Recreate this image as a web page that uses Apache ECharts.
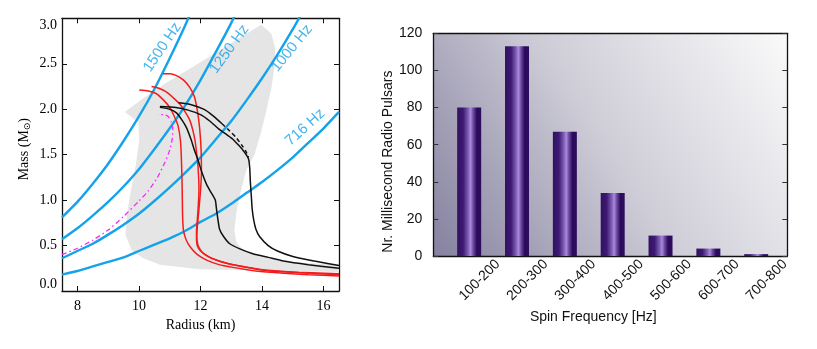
<!DOCTYPE html>
<html><head><meta charset="utf-8">
<script src="https://cdn.jsdelivr.net/npm/echarts@6/dist/echarts.min.js"></script>
<style>html,body{margin:0;padding:0;background:#fff}#c{width:817px;height:349px}</style>
</head><body><div id="c"></div>
<script>
// ---------- Left panel data (Radius km, Mass Msun) ----------
const radiusTicks = [8, 10, 12, 14, 16];
const freq1500 = [[7.5,0.81],[8,0.98],[8.5,1.18],[9,1.4],[9.5,1.65],[10,1.92],[10.5,2.22],[11,2.56],[11.5,2.92],[12,3.32]];
const freq1250 = [[7.5,0.57],[8,0.69],[8.5,0.83],[9,0.98],[9.5,1.15],[10,1.34],[10.5,1.56],[11,1.79],[11.5,2.04],[12,2.32],[12.5,2.63],[13,2.95],[13.5,3.31]];
const freq1000 = [[7.5,0.36],[8,0.44],[8.5,0.52],[9,0.62],[9.5,0.73],[10,0.85],[10.5,0.99],[11,1.14],[11.5,1.3],[12,1.47],[12.5,1.67],[13,1.87],[13.5,2.1],[14,2.34],[14.5,2.6],[15,2.88],[15.5,3.18]];
const freq716 = [[7.5,0.18],[8,0.22],[8.5,0.27],[9,0.32],[9.5,0.37],[10,0.44],[10.5,0.51],[11,0.58],[11.5,0.66],[12,0.76],[12.5,0.85],[13,0.96],[13.5,1.08],[14,1.2],[14.5,1.33],[15,1.47],[15.5,1.63],[16,1.79],[16.5,1.97]];
const hzNames = ['1500 Hz', '1250 Hz', '1000 Hz', '716 Hz'];
const hzLabelAt = [[10.76,2.68],[12.94,2.66],[14.97,2.67],[15.40,1.80]];

const grayRegion = [[13.97,2.93],[14.30,2.83],[14.43,2.67],[14.40,2.45],[14.30,2.23],[14.13,1.97],[13.97,1.75],[13.75,1.50],[13.49,1.33],[13.32,1.11],[13.18,0.89],[13.10,0.67],[13.16,0.54],[13.38,0.45],[13.92,0.38],[14.78,0.32],[16.5,0.29],[16.5,0.21],[11.97,0.24],[10.68,0.29],[10.14,0.36],[9.76,0.45],[9.56,0.62],[9.61,0.84],[9.74,1.11],[9.90,1.39],[10.01,1.66],[9.98,1.86],[9.54,1.97],[10.14,2.12],[10.89,2.29],[11.97,2.51],[13.05,2.74]];

const redA = [[10.01,2.21],[10.3,2.2],[10.57,2.17],[10.8,2.1],[11.0,2.02],[11.15,1.92],[11.27,1.82],[11.35,1.65],[11.38,1.45],[11.4,1.2],[11.41,1.0],[11.42,0.8],[11.45,0.66],[11.55,0.55],[11.7,0.47],[11.9,0.4],[12.2,0.34],[12.6,0.29],[13.05,0.26],[13.8,0.22],[14.7,0.195],[15.5,0.18],[16.5,0.165]];
const redB = [[10.78,2.39],[11.0,2.39],[11.22,2.37],[11.45,2.32],[11.65,2.24],[11.8,2.14],[11.9,1.98],[11.97,1.8],[12.02,1.55],[12.03,1.3],[12.0,1.1],[11.95,0.9],[11.9,0.72],[11.88,0.6],[11.92,0.5],[12.05,0.43],[12.3,0.37],[12.7,0.32],[13.1,0.285],[14.1,0.225],[15.2,0.2],[16.5,0.18]];
const redC = [[10.41,2.25],[10.65,2.23],[10.89,2.19],[11.1,2.13],[11.32,2.06],[11.5,1.97],[11.65,1.88],[11.75,1.77],[11.82,1.66],[11.88,1.5],[11.92,1.37],[11.95,1.11],[11.93,0.95],[11.9,0.8],[11.87,0.65],[11.87,0.56],[11.93,0.47],[12.1,0.41],[12.4,0.355],[12.8,0.31],[13.2,0.28],[14.1,0.23],[15.2,0.205],[16.5,0.19]];
const blackE1 = [[10.68,2.03],[11.2,2.02],[11.6,1.99],[12.0,1.94],[12.3,1.87],[12.6,1.78],[12.85,1.72],[13.05,1.67],[13.25,1.6],[13.4,1.54],[13.52,1.48],[13.57,1.44],[13.6,1.35],[13.62,1.2],[13.65,1.05],[13.68,0.9],[13.73,0.78],[13.8,0.68],[13.92,0.6],[14.2,0.5],[14.5,0.44],[15.0,0.38],[15.7,0.33],[16.5,0.28]];
const blackF = [[10.68,2.02],[11.0,2.0],[11.22,1.96],[11.4,1.88],[11.54,1.8],[11.7,1.66],[11.8,1.55],[11.92,1.44],[12.05,1.3],[12.2,1.17],[12.35,1.08],[12.48,1.0],[12.52,0.9],[12.56,0.8],[12.62,0.68],[12.75,0.6],[12.95,0.52],[13.3,0.46],[13.7,0.41],[14.2,0.37],[14.7,0.33],[15.5,0.29],[16.5,0.25]];
const blackE2 = [[11.29,2.07],[11.7,2.05],[12.1,2.0],[12.4,1.93],[12.7,1.84]];
const blackE2Dashed = [[12.7,1.84],[12.95,1.76],[13.15,1.69],[13.33,1.61],[13.47,1.54],[13.56,1.47]];
const magenta = [[7.5,0.4],[8,0.47],[8.5,0.56],[9,0.67],[9.5,0.82],[10,0.99],[10.3,1.1],[10.6,1.25],[10.85,1.42],[11.0,1.55],[11.08,1.67],[11.1,1.78],[11.05,1.86],[10.95,1.92],[10.8,1.94],[10.62,1.94]];

// ---------- Right panel data ----------
const spinBins = ['100-200','200-300','300-400','400-500','500-600','600-700','700-800'];
const pulsarCounts = [80, 113, 67, 34, 11, 4, 1];

const serif = 'Liberation Serif';
const sans = 'Liberation Sans';
const BLUE = '#14a2ea';
const AX = '#111';
const labelShift = 0.6;

function curve(data, color, width, type, z) {
  return {type: 'line', xAxisIndex: 0, yAxisIndex: 0, data: data, symbol: 'none', showSymbol: false,
    smooth: 0.2, silent: true, z: z || 3,
    lineStyle: {color: color, width: width, type: type || 'solid'}};
}

const hzRot = [56, 54, 51, 42];
const series = [
  {type: 'custom', xAxisIndex: 0, yAxisIndex: 0, silent: true, z: 1, clip: true,
   data: [grayRegion[0]],
   renderItem: function (params, api) {
     return {type: 'polygon', shape: {points: grayRegion.map(p => api.coord(p))}, style: {fill: '#e5e5e5'}};
   }},
  curve(freq1500, BLUE, 2.4), curve(freq1250, BLUE, 2.4), curve(freq1000, BLUE, 2.4), curve(freq716, BLUE, 2.4),
  curve(magenta, '#ff22ff', 1.3, [5, 3, 1.5, 3], 4),
  curve(redA, '#f21c1c', 1.5, 'solid', 5), curve(redB, '#f21c1c', 1.5, 'solid', 5), curve(redC, '#f21c1c', 1.5, 'solid', 5),
  curve(blackE1, '#111', 1.5, 'solid', 6), curve(blackF, '#111', 1.5, 'solid', 6),
  curve(blackE2, '#111', 1.5, 'solid', 6), curve(blackE2Dashed, '#111', 1.5, [4, 3], 6),
  {type: 'scatter', xAxisIndex: 0, yAxisIndex: 0, symbolSize: 0, silent: true, z: 7,
   data: hzNames.map((n, i) => ({value: hzLabelAt[i], name: n, label: {rotate: hzRot[i]}})),
   label: {show: true, position: 'inside', formatter: p => p.name, color: BLUE, fontFamily: sans, fontSize: 15}},
  {type: 'bar', xAxisIndex: 2, yAxisIndex: 2, barWidth: 24,
   data: spinBins.map((b, i) => [i + 1, pulsarCounts[i]]),
   itemStyle: {color: {type: 'linear', x: 0, y: 0, x2: 1, y2: 0, colorStops: [
     {offset: 0, color: '#33105f'}, {offset: 0.25, color: '#3c1a74'}, {offset: 0.45, color: '#7b5bb3'},
     {offset: 0.56, color: '#a98bd8'}, {offset: 0.67, color: '#6c48a4'}, {offset: 0.82, color: '#2b0a5b'},
     {offset: 1, color: '#2e0c5e'}]}}}
];

const frameLine = {show: true, onZero: false, lineStyle: {color: AX, width: 1.3}};
const option = {
  animation: false,
  backgroundColor: '#fff',
  grid: [
    {left: 62, top: 18.3, width: 277, height: 272.7},
    {left: 433.3, top: 33.3, width: 354, height: 222.7, show: true, borderWidth: 0,
     backgroundColor: {type: 'linear', x: 0, y: 1, x2: 1, y2: 0, colorStops: [
       {offset: 0, color: '#85819f'}, {offset: 0.5, color: '#cfced8'}, {offset: 1, color: '#fafafa'}]}}
  ],
  xAxis: [
    {gridIndex: 0, type: 'value', min: 7.5, max: 16.5, position: 'bottom', axisLine: frameLine,
     axisTick: {inside: true, length: 5, customValues: radiusTicks, lineStyle: {color: AX}},
     axisLabel: {customValues: radiusTicks, color: '#000', fontFamily: serif, fontSize: 14, margin: 8},
     splitLine: {show: false},
     name: 'Radius (km)', nameLocation: 'middle', nameGap: 21,
     nameTextStyle: {fontFamily: serif, fontSize: 14, color: '#000'}},
    {gridIndex: 0, type: 'value', min: 7.5, max: 16.5, position: 'top', axisLine: frameLine,
     axisTick: {inside: true, length: 5, customValues: radiusTicks, lineStyle: {color: AX}},
     axisLabel: {show: false}, splitLine: {show: false}},
    {gridIndex: 1, type: 'value', min: 0.25, max: 7.65, position: 'bottom', axisLine: frameLine,
     axisTick: {show: false},
     axisLabel: {customValues: spinBins.map((b, i) => i + 1 + labelShift),
       formatter: v => spinBins[Math.round(v - 1 - labelShift)] || '',
       rotate: 45, margin: 6, fontFamily: sans, fontSize: 14, color: '#111'},
     splitLine: {show: false},
     name: 'Spin Frequency [Hz]', nameLocation: 'middle', nameGap: 49,
     nameTextStyle: {fontFamily: sans, fontSize: 14, color: '#111', padding: [0, 34, 0, 0]}},
    {gridIndex: 1, type: 'value', min: 0.25, max: 7.65, position: 'top', axisLine: frameLine,
     axisTick: {show: false}, axisLabel: {show: false}, splitLine: {show: false}}
  ],
  yAxis: [
    {gridIndex: 0, type: 'value', min: 0, max: 3, interval: 0.5, position: 'left', axisLine: frameLine,
     axisTick: {inside: true, length: 5, lineStyle: {color: AX}},
     axisLabel: {formatter: v => v.toFixed(1), color: '#000', fontFamily: serif, fontSize: 14, margin: 5,
       verticalAlignMinLabel: 'bottom', verticalAlignMaxLabel: 'top'},
     splitLine: {show: false},
     name: 'Mass (M{s|⊙})', nameLocation: 'middle', nameGap: 30, nameRotate: 90,
     nameTextStyle: {fontFamily: serif, fontSize: 14, color: '#000', padding: [0, 0, 0, 11],
       rich: {s: {fontFamily: 'DejaVu Sans', fontSize: 9, color: '#000', padding: [7, 0, 0, 0]}}}},
    {gridIndex: 0, type: 'value', min: 0, max: 3, interval: 0.5, position: 'right', axisLine: frameLine,
     axisTick: {inside: true, length: 5, lineStyle: {color: AX}},
     axisLabel: {show: false}, splitLine: {show: false}},
    {gridIndex: 1, type: 'value', min: 0, max: 120, interval: 20, position: 'left', axisLine: frameLine,
     axisTick: {inside: true, length: 5, lineStyle: {color: '#333'}},
     axisLabel: {color: '#111', fontFamily: sans, fontSize: 14, margin: 11},
     splitLine: {show: false},
     name: 'Nr. Millisecond Radio Pulsars', nameLocation: 'middle', nameGap: 33, nameRotate: 90,
     nameTextStyle: {fontFamily: sans, fontSize: 14, color: '#111', padding: [0, 34, 0, 0]}},
    {gridIndex: 1, type: 'value', min: 0, max: 120, interval: 20, position: 'right', axisLine: frameLine,
     axisTick: {inside: true, length: 5, lineStyle: {color: '#333'}},
     axisLabel: {show: false}, splitLine: {show: false}}
  ],
  series: series
};
const chart = echarts.init(document.getElementById('c'), null, {renderer: 'canvas'});
chart.setOption(option);
</script></body></html>
